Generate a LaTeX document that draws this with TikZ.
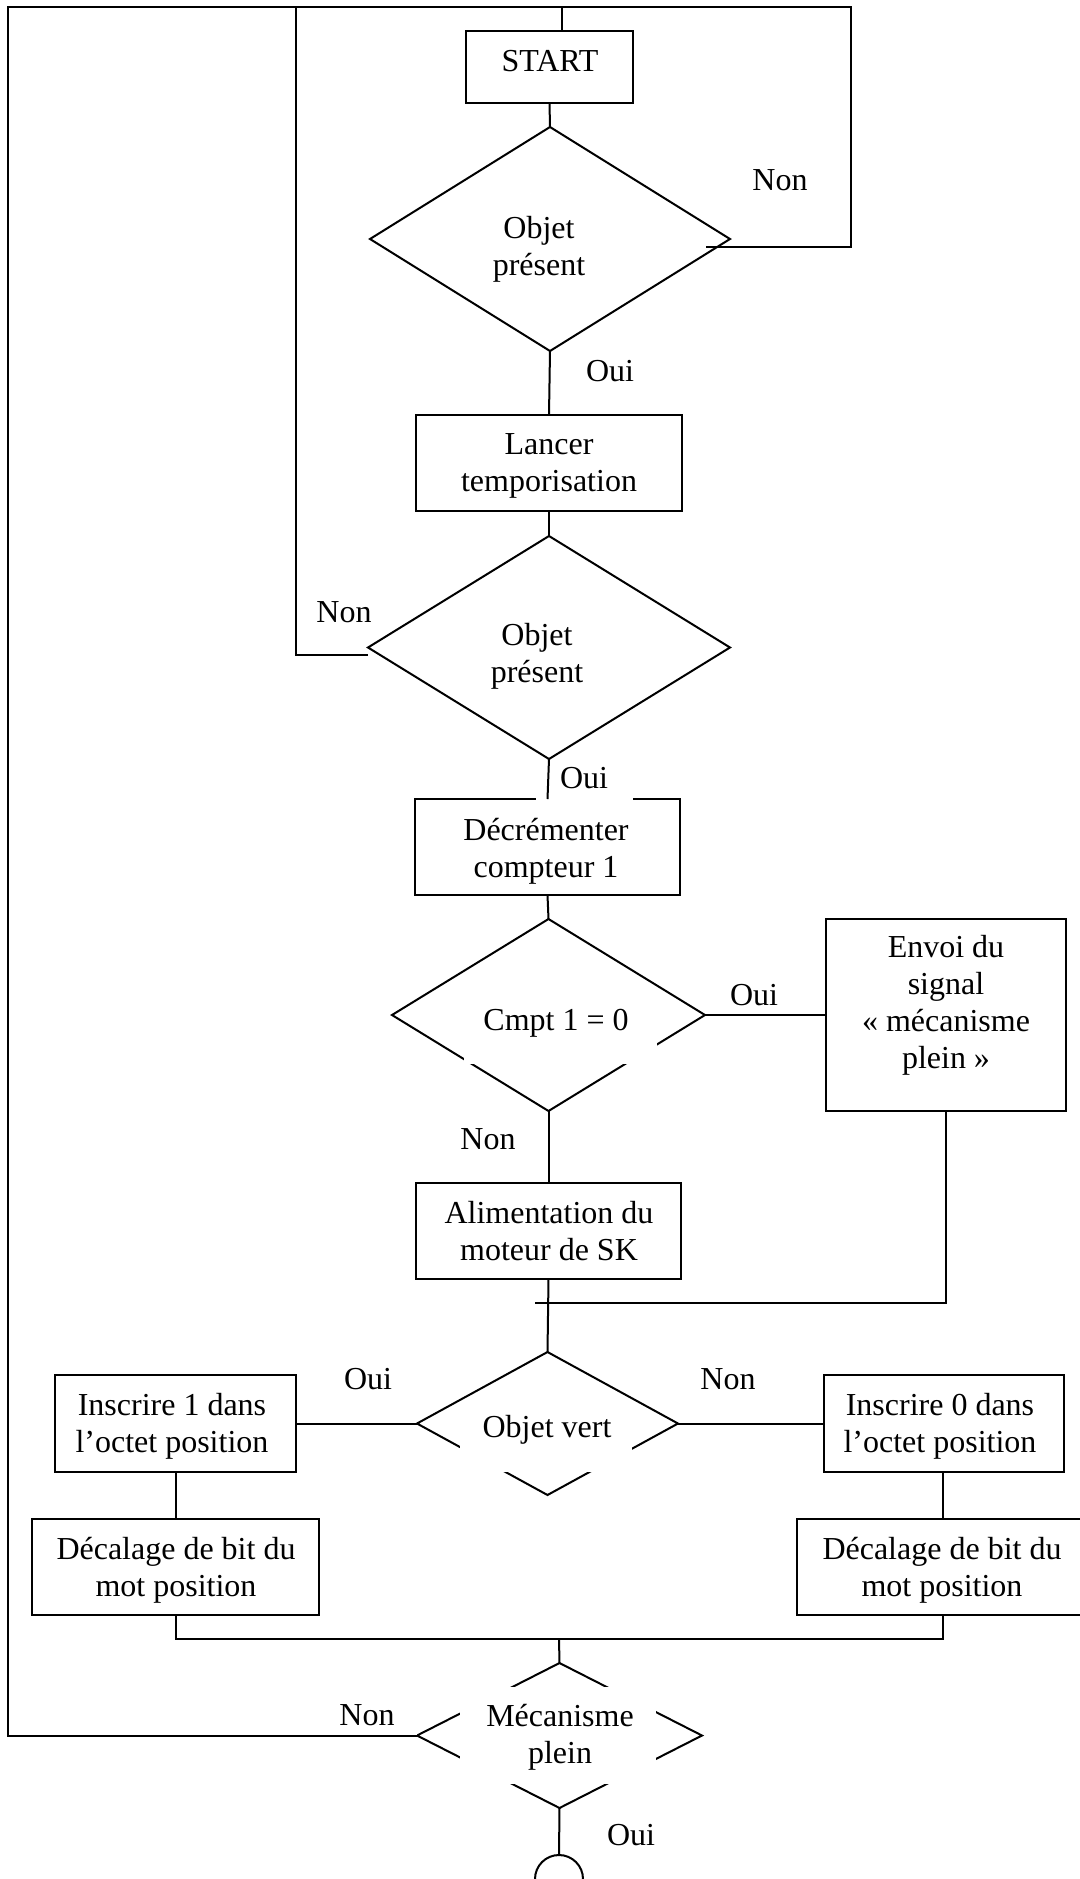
\documentclass[tikz,border=0pt]{standalone}
\usepackage{fontspec}
\setmainfont{Liberation Serif}
\usetikzlibrary{shapes.geometric}

\begin{document}
\begin{tikzpicture}[x=0.5pt, y=-0.5pt, line width=1pt,
  stepbox/.style={draw, rectangle, inner sep=0pt, outer sep=0pt},
  decision/.style={draw, diamond, inner sep=0pt, outer sep=0pt},
  size/.style 2 args={minimum width=#1*0.5pt, minimum height=#2*0.5pt},
  % multi-line texts: the base anchor sits on the last line
  txt/.style={font=\fontsize{16}{18.5}\selectfont, align=center, inner sep=0pt, anchor=base},
  lbl/.style={font=\fontsize{16}{18.5}\selectfont, inner sep=0pt, anchor=base},
  frame/.style={fill=white, draw=none}
]
\useasboundingbox (0,0) rectangle (1080,1879);

% ---- process boxes ----
\node[stepbox, size={167}{72}]  (start)  at (549.5,67)   {};
\node[stepbox, size={266}{96}]  (lancer) at (549,463)    {};
\node[stepbox, size={265}{96}]  (decr)   at (547.5,847)  {};
\node[stepbox, size={240}{192}] (envoi)  at (946,1015)   {};
\node[stepbox, size={265}{96}]  (alim)   at (548.5,1231) {};
\node[stepbox, size={241}{97}]  (ins1)   at (175.5,1423.5) {};
\node[stepbox, size={240}{97}]  (ins0)   at (944,1423.5) {};
\node[stepbox, size={287}{96}]  (dec1)   at (175.5,1567) {};
\node[stepbox, size={303}{96}]  (dec0)   at (948.5,1567) {};

% ---- decisions ----
\node[decision, size={360}{224}] (d1) at (550,239)      {};
\node[decision, size={362}{223}] (d2) at (549,647.5)    {};
\node[decision, size={313}{192}] (d3) at (548.5,1015)   {};
\node[decision, size={261}{143}] (d4) at (547.5,1423.5) {};
\node[decision, size={285}{145}] (d5) at (559.5,1735.5) {};

% ---- end terminal ----
\node[draw, circle, inner sep=0pt, outer sep=0pt, minimum size=24pt] (fin) at (559,1879) {};

% ---- white text frames laid over the decisions ----
\fill[frame] (464,1000) rectangle (657,1064);
\fill[frame] (460,1405) rectangle (632,1472);
\fill[frame] (460,1687) rectangle (656,1784);

% ---- texts ----
\node[lbl] (startT) at (550,71) {START};
\node[txt] (d1T) at (539,275) {Objet\\présent};
\node[txt] (lancerT) at (549,491) {Lancer\\temporisation};
\node[txt] (d2T) at (537,682) {Objet\\présent};
\node[txt] (decrT) at (546,877) {Décrémenter\\compteur 1};
\node[lbl] (d3T) at (556,1030) {Cmpt 1 = 0};
\node[txt] (envoiT) at (946,1068) {Envoi du\\signal\\« mécanisme\\plein »};
\node[txt] (alimT) at (549,1260) {Alimentation du\\moteur de SK};
\node[txt] (ins1T) at (172,1452) {Inscrire 1 dans\\l’octet position};
\node[txt] (ins0T) at (940,1452) {Inscrire 0 dans\\l’octet position};
\node[lbl] (d4T) at (547,1437) {Objet vert};
\node[txt] (dec1T) at (176,1596) {Décalage de bit du\\mot position};
\node[txt] (dec0T) at (942,1596) {Décalage de bit du\\mot position};
\node[txt] (d5T) at (560,1763) {Mécanisme\\plein};

% ---- branch labels ----
\node[lbl] (non1) at (780,190)  {Non};
\node[lbl] (oui1) at (610,381)  {Oui};
\node[lbl] (non2) at (344,622)  {Non};
\node[lbl, fill=white, minimum width=48.5pt, text depth=6.5pt] (oui2) at (584,788) {Oui};
\node[lbl] (oui3) at (754,1005) {Oui};
\node[lbl] (non3) at (488,1149) {Non};
\node[lbl] (oui4) at (368,1389) {Oui};
\node[lbl] (non4) at (728,1389) {Non};
\node[lbl] (oui6) at (631,1845) {Oui};

% ---- junction points ----
\coordinate (topL)     at (8,7);
\coordinate (topR)     at (851,7);
\coordinate (d1hook)   at (706,247);
\coordinate (loop2top) at (296,7);
\coordinate (d2hook)   at (368,655);
\coordinate (starttop) at (562,7);
\coordinate (envjoin)  at (535,1303);
\coordinate (merge)    at (559,1639);
\coordinate (leftdrop) at (176,1472);
\coordinate (rightdrop) at (943,1472);

% ---- connectors ----
\draw (starttop) -- (starttop |- start.north);
\draw (start.south) -- (d1.north);
\draw (d1.south) -- (lancer.north);
\draw (lancer.south) -- (d2.north);
\draw (d2.south) -- (decr.north);
\draw (decr.south) -- (d3.north);
\draw (d3.east) -- (envoi.west);
\draw (d3.south) -- (alim.north);
\draw (alim.south) -- (d4.north);
\draw (envoi.south) |- (envjoin);
\draw (d4.west) -- (ins1.east);
\draw (d4.east) -- (ins0.west);
\draw (leftdrop) -- (leftdrop |- dec1.north);
\draw (rightdrop) -- (rightdrop |- dec0.north);
\draw (leftdrop |- dec1.south) |- (merge) -| (rightdrop |- dec0.south);
\draw (merge) -- (d5.north);
\draw (d5.south) -- (fin.north);
\draw (d5.west) -| (topL) -- (topR) |- (d1hook);
\draw (d2hook) -| (loop2top);

% label drawn over the return line
\node[lbl, fill=white, minimum width=49.5pt, text depth=5pt] (non5) at (367,1725) {Non};
\end{tikzpicture}
\end{document}
